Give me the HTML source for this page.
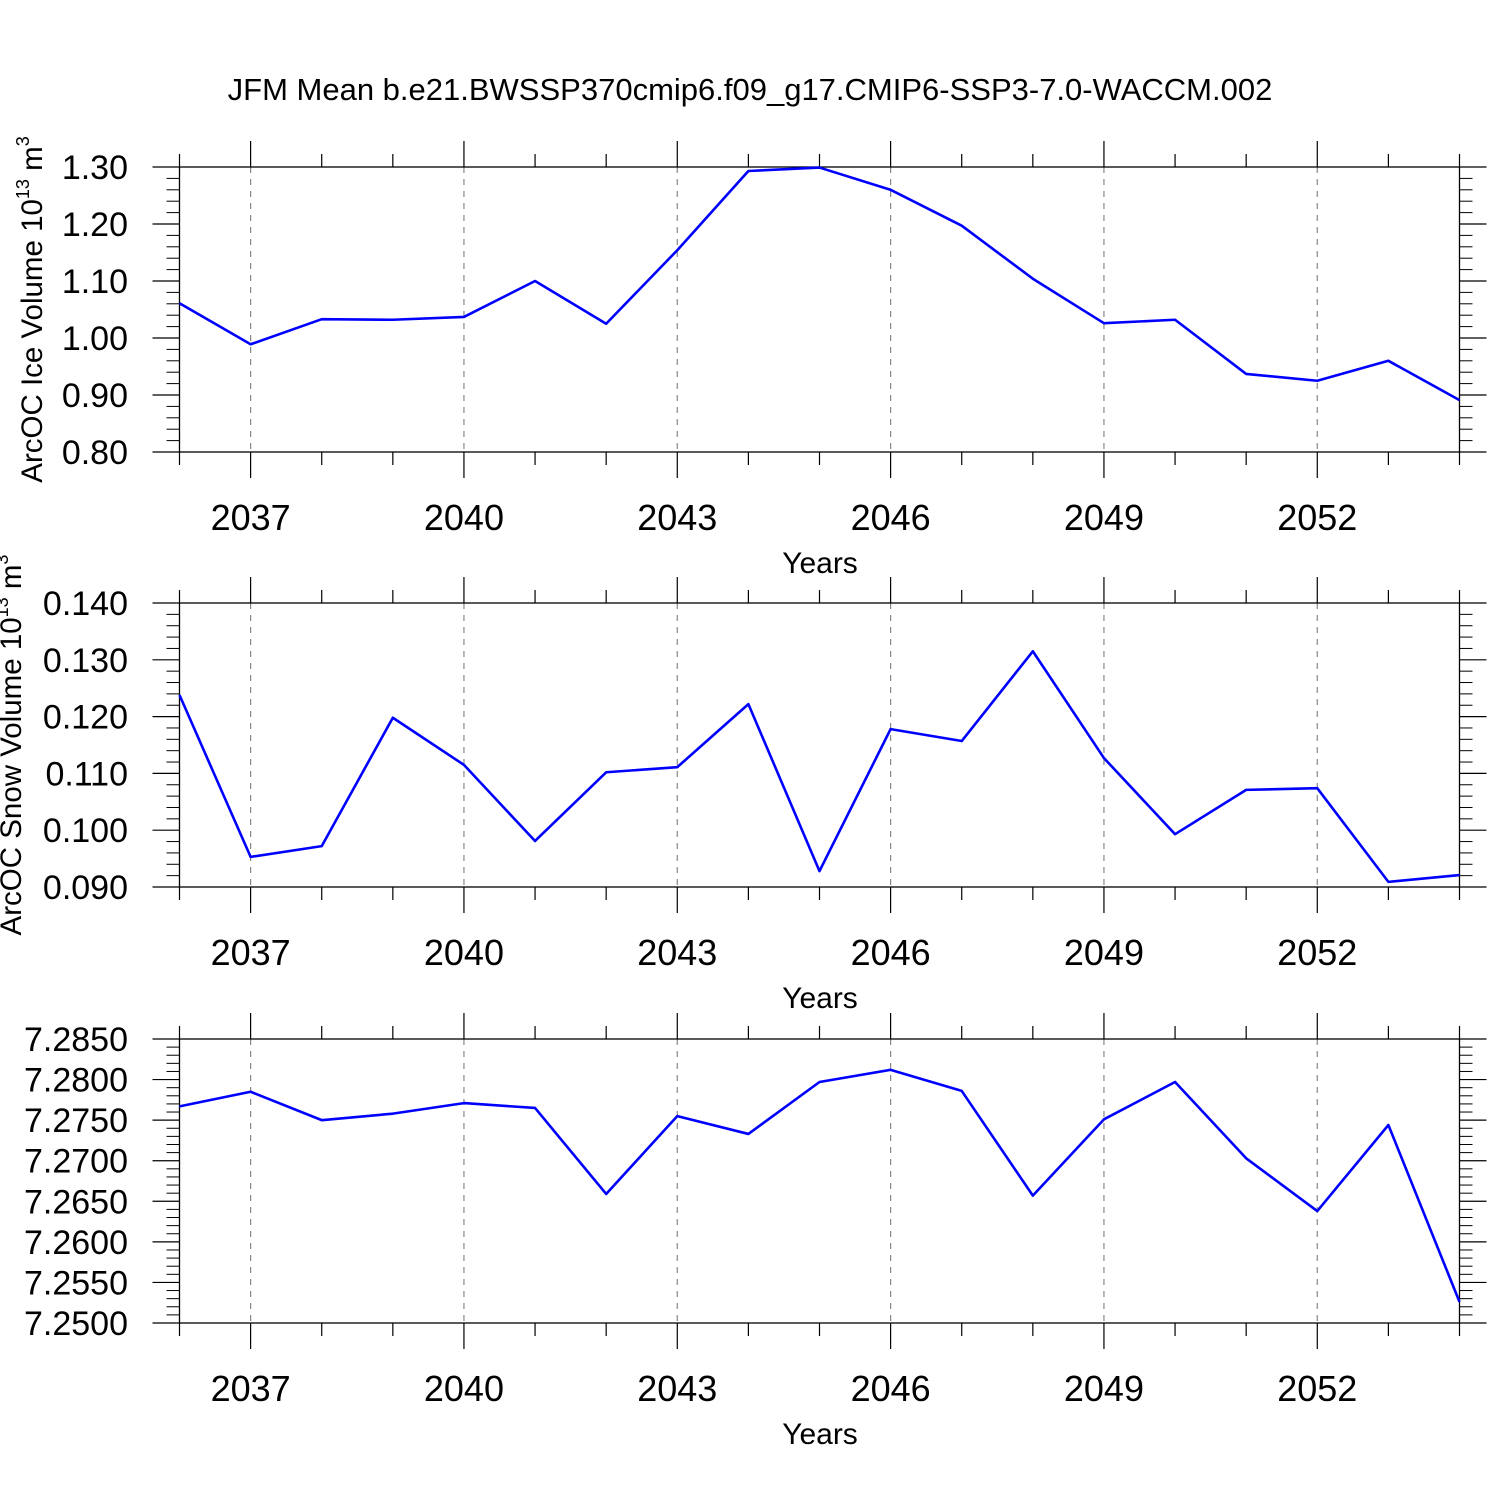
<!DOCTYPE html>
<html><head><meta charset="utf-8"><style>
html,body{margin:0;padding:0;background:#fff;}
svg{display:block;font-family:"Liberation Sans",sans-serif;}
</style></head><body>
<svg id="chart" width="1500" height="1500" viewBox="0 0 1500 1500" xmlns="http://www.w3.org/2000/svg">
<text x="750" y="100" font-size="31" text-anchor="middle">JFM Mean b.e21.BWSSP370cmip6.f09_g17.CMIP6-SSP3-7.0-WACCM.002</text>
</svg>
<script>
const years = [2036,2037,2038,2039,2040,2041,2042,2043,2044,2045,2046,2047,2048,2049,2050,2051,2052,2053,2054];
const xTickLabels = [2037,2040,2043,2046,2049,2052];
const iceVolume = [1.061,0.989,1.033,1.032,1.037,1.100,1.025,1.154,1.293,1.299,1.260,1.197,1.104,1.026,1.032,0.937,0.925,0.960,0.891];
const snowVolume = [0.1238,0.0953,0.0972,0.1198,0.1115,0.0981,0.1102,0.1111,0.1222,0.0928,0.1178,0.1157,0.1315,0.1127,0.0993,0.1071,0.1074,0.0909,0.0921];
const iceArea = [7.2767,7.2785,7.2750,7.2758,7.2771,7.2765,7.2659,7.2755,7.2733,7.2797,7.2812,7.2786,7.2657,7.2751,7.2797,7.2703,7.2638,7.2744,7.2526];
const ticks1 = [0.80,0.90,1.00,1.10,1.20,1.30];
const ticks2 = [0.090,0.100,0.110,0.120,0.130,0.140];
const ticks3 = [7.2500,7.2550,7.2600,7.2650,7.2700,7.2750,7.2800,7.2850];

const NS="http://www.w3.org/2000/svg";
const svg=document.getElementById('chart');
function mk(tag,attrs,parent){const e=document.createElementNS(NS,tag);for(const k in attrs)e.setAttribute(k,attrs[k]);(parent||svg).appendChild(e);return e;}
const X0=179.5,X1=1459.5;
const xs=y=>X0+(y-2036)*(X1-X0)/(2054-2036);

function panel(idx,top,bottom,vals,ticks,dec,minorN,labelX,labelMain,unitExp,unitPow,name){
  const g=mk('g',{});
  
  
  const vmin=ticks[0],vmax=ticks[ticks.length-1];
  const ys=v=>bottom-(v-vmin)*(bottom-top)/(vmax-vmin);
  xTickLabels.forEach(y=>{
    const l=mk('line',{x1:xs(y),x2:xs(y),y1:top,y2:bottom,stroke:'#888','stroke-width':1.2,'stroke-dasharray':'6,6'},g);
    
    
  });
  const fr=mk('rect',{x:X0,y:top,width:X1-X0,height:bottom-top,fill:'none',stroke:'#000','stroke-width':1.3},g);
  
  
  years.forEach(y=>{
    const maj=xTickLabels.includes(y);const L=maj?26:13;
    mk('line',{x1:xs(y),x2:xs(y),y1:top-L,y2:top,stroke:'#000','stroke-width':1.2},g);
    mk('line',{x1:xs(y),x2:xs(y),y1:bottom,y2:bottom+L,stroke:'#000','stroke-width':1.2},g);
  });
  xTickLabels.forEach(y=>{
    const t=mk('text',{x:xs(y),y:bottom+78,'font-size':36,'text-anchor':'middle'},g);
    t.textContent=y;
    
    
  });
  const xt=mk('text',{x:820,y:bottom+121,'font-size':30,'text-anchor':'middle'},g);
  xt.textContent='Years';
  
  
  const step=(ticks[1]-ticks[0])/(minorN+1);
  for(let i=0;i<ticks.length;i++){
    const v=ticks[i];
    mk('line',{x1:X0-27,x2:X0,y1:ys(v),y2:ys(v),stroke:'#000','stroke-width':1.2},g);
    mk('line',{x1:X1,x2:X1+27,y1:ys(v),y2:ys(v),stroke:'#000','stroke-width':1.2},g);
    const t=mk('text',{x:128,y:ys(v)+12,'font-size':34,'text-anchor':'end'},g);
    t.textContent=v.toFixed(dec);
    
    
    if(i<ticks.length-1){for(let k=1;k<=minorN;k++){const yy=ys(v+k*step);
      mk('line',{x1:X0-13,x2:X0,y1:yy,y2:yy,stroke:'#000','stroke-width':1},g);
      mk('line',{x1:X1,x2:X1+13,y1:yy,y2:yy,stroke:'#000','stroke-width':1},g);}}
  }
  const cy=(top+bottom)/2;
  const yt=mk('text',{x:labelX,y:cy,'font-size':29.5,'text-anchor':'middle',transform:`rotate(-90 ${labelX} ${cy})`},g);
  
  
  yt.appendChild(document.createTextNode(labelMain+' 10'));
  const s1=mk('tspan',{'font-size':18,dy:-13},yt);s1.textContent=unitExp;
  const s2=mk('tspan',{dy:13},yt);s2.textContent=' m';
  const s3=mk('tspan',{'font-size':18,dy:-13},yt);s3.textContent=unitPow;
  const pts=years.map((y,i)=>xs(y)+','+ys(vals[i])).join(' ');
  const pl=mk('polyline',{points:pts,fill:'none',stroke:'#0000ff','stroke-width':2.6,'stroke-linejoin':'round'},g);
  
  
}
panel(1,167,452,iceVolume,ticks1,2,4,42,'ArcOC Ice Volume','13','3','ice-volume');
panel(2,603,887,snowVolume,ticks2,3,4,21,'ArcOC Snow Volume','13','3','snow-volume');
panel(3,1039,1323,iceArea,ticks3,4,4,-8,'ArcOC Ice Area','13','2','ice-area');
</script>
</body></html>
